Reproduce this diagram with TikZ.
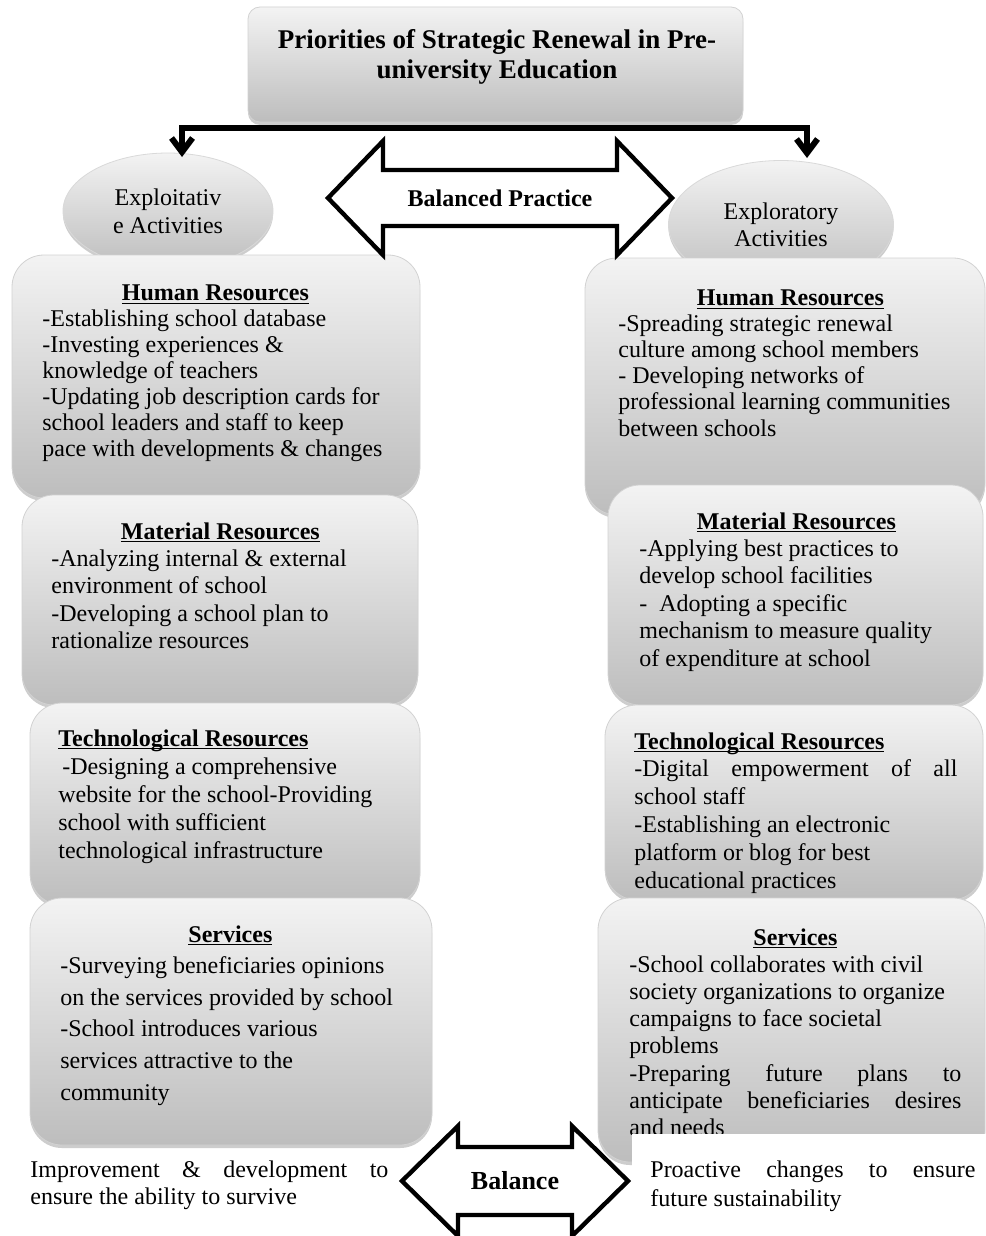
\documentclass[tikz,border=0pt]{standalone}
\usepackage{fontspec}
\setmainfont{Liberation Serif}
\usepackage{xcolor}
\definecolor{srlight}{HTML}{F3F3F3}
\definecolor{srdark}{HTML}{BDBDBD}
\definecolor{srshade}{HTML}{9C9C9C}
\usetikzlibrary{arrows.meta,positioning,shapes.geometric,shadows,calc}
\newcommand{\srul}[1]{\underline{\raisebox{0pt}[\height][0pt]{\textbf{#1}}}}
\newcommand{\srhd}[2]{\makebox[#1]{\srul{#2}}}
\newcommand{\srdbarrow}[5]{\draw[srdbl] ($(#1)+(-#2,0)$) -- ($(#1)+(-#3,-#4)$) -- ($(#1)+(-#3,-#5)$) -- ($(#1)+(#3,-#5)$) -- ($(#1)+(#3,-#4)$) -- ($(#1)+(#2,0)$) -- ($(#1)+(#3,#4)$) -- ($(#1)+(#3,#5)$) -- ($(#1)+(-#3,#5)$) -- ($(#1)+(-#3,#4)$) -- cycle;}
\tikzset{
  srbox/.style={draw=gray!35,line width=0.4pt,rounded corners=16pt,top color=srlight,bottom color=srdark,drop shadow={shadow xshift=0pt,shadow yshift=-1.5pt,fill=srshade},inner sep=0pt},
  sroval/.style={ellipse,draw=gray!30,line width=0.4pt,top color=srlight,bottom color=srdark,drop shadow={shadow xshift=0pt,shadow yshift=-1.5pt,fill=srshade},inner sep=0pt,align=center},
  srbody/.style={font=\fontsize{12}{#1}\selectfont,align=left,inner sep=0pt,anchor=north west},
  srflow/.style={-{Straight Barb[length=7pt,width=10.5pt]},line width=3pt,line join=miter},
  srdbl/.style={draw=black,fill=white,line width=2.2pt,line join=miter},
  srbold/.style={font=\fontsize{12}{14}\selectfont\bfseries,inner sep=0pt},
}
\begin{document}
\begin{tikzpicture}[x=0.5pt,y=-0.5pt]
\path[use as bounding box,fill=white] (0,0) rectangle (985,1236);
% heading and the two kinds of activity
\node[sroval,minimum width=105pt,minimum height=58pt,font=\fontsize{12}{14}\selectfont] (lex) at (168,211) {Exploitativ\\e Activities};
\node[sroval,minimum width=112.5pt,minimum height=64pt,font=\fontsize{12}{13.5}\selectfont] (rex) at (781,224.5) {Exploratory\\Activities};
\node[srbox,rounded corners=6pt,minimum width=247.5pt,minimum height=57.5pt] (top) at (495.5,64.5) {};
\node[font=\fontsize{13.5}{15}\selectfont\bfseries,align=center] (toptxt) at (497,57) {Priorities of Strategic Renewal in Pre-\\university Education};
\coordinate (fork) at (497,128);
\coordinate (ltip) at (182,157);
\coordinate (rtip) at (807,158);
\draw[srflow] (fork) -| (ltip);
\draw[srflow] (fork) -| (rtip);
% exploitative column
\node[srbox,minimum width=204pt,minimum height=121.5pt] (lhr) at (216,376.5) {};
\node[srbody=13pt] (lhrtxt) at (42,284) {\srhd{173pt}{Human Resources}\\-Establishing school database\\-Investing experiences \&\\knowledge of teachers\\-Updating job description cards for\\school leaders and staff to keep\\pace with developments \& changes};
\node[srbox,minimum width=198pt,minimum height=105pt] (lmr) at (220,600) {};
\node[srbody=13.7pt] (lmrtxt) at (51,522) {\srhd{169pt}{Material Resources}\\-Analyzing internal \& external\\environment of school\\-Developing a school plan to\\rationalize resources};
\node[srbox,minimum width=195pt,minimum height=101pt] (ltr) at (225,804) {};
\node[srbody=14pt] (ltrtxt) at (58,729) {\srul{Technological Resources}\\\,-Designing a comprehensive\\website for the school-Providing\\school with sufficient\\technological infrastructure};
\node[srbox,minimum width=201pt,minimum height=123.5pt] (lsv) at (231,1021.5) {};
\node[srbody=15.8pt] (lsvtxt) at (60,925) {\srhd{170pt}{Services}\\-Surveying beneficiaries opinions\\on the services provided by school\\-School introduces various\\services attractive to the\\community};
% exploratory column
\node[srbox,minimum width=200pt,minimum height=128.5pt] (rhr) at (785,386.5) {};
\node[srbody=13.1pt] (rhrtxt) at (618,289) {\srhd{172pt}{Human Resources}\\-Spreading strategic renewal\\culture among school members\\- Developing networks of\\professional learning communities\\between schools};
\node[srbox,minimum width=187.5pt,minimum height=110pt] (rmr) at (795.5,595) {};
\node[srbody=13.7pt] (rmrtxt) at (639,512) {\srhd{157pt}{Material Resources}\\-Applying best practices to\\develop school facilities\\-\ \ Adopting a specific\\mechanism to measure quality\\of expenditure at school};
\node[srbox,minimum width=189pt,minimum height=97.5pt] (rtr) at (794,802.5) {};
\node[srbody=13.9pt] (rtrtxt) at (634,732) {\srul{Technological Resources}\\\makebox[161.5pt][s]{-Digital empowerment of all}\\school staff\\-Establishing an electronic\\platform or blog for best\\educational practices};
\node[srbox,minimum width=193.5pt,minimum height=132pt] (rsv) at (791.5,1030) {};
\node[srbody=13.6pt] (rsvtxt) at (629,928) {\srhd{166pt}{Services}\\-School collaborates with civil\\society organizations to organize\\campaigns to face societal\\problems\\\makebox[166pt][s]{-Preparing future plans to}\\\makebox[166pt][s]{anticipate beneficiaries desires}\\and needs};
% outcomes and balance arrows
\node[srbody=13.5pt] (lnote) at (30,1160) {\makebox[179pt][s]{Improvement \& development to}\\ensure the ability to survive};
\node[srbody=14.5pt,fill=white,inner xsep=9pt,inner ysep=13pt] (rnote) at (632,1134) {\makebox[162.5pt][s]{Proactive changes to ensure}\\future sustainability};
\coordinate (bpc) at (500,198);
\srdbarrow{bpc}{172}{117}{57}{28}
\node[srbold] (bp) at (bpc) {Balanced Practice};
\coordinate (blc) at (515,1181);
\srdbarrow{blc}{113}{57}{55}{34}
\node[srbold,font=\fontsize{13}{14}\selectfont\bfseries] (bl) at (blc) {Balance};
\end{tikzpicture}
\end{document}
